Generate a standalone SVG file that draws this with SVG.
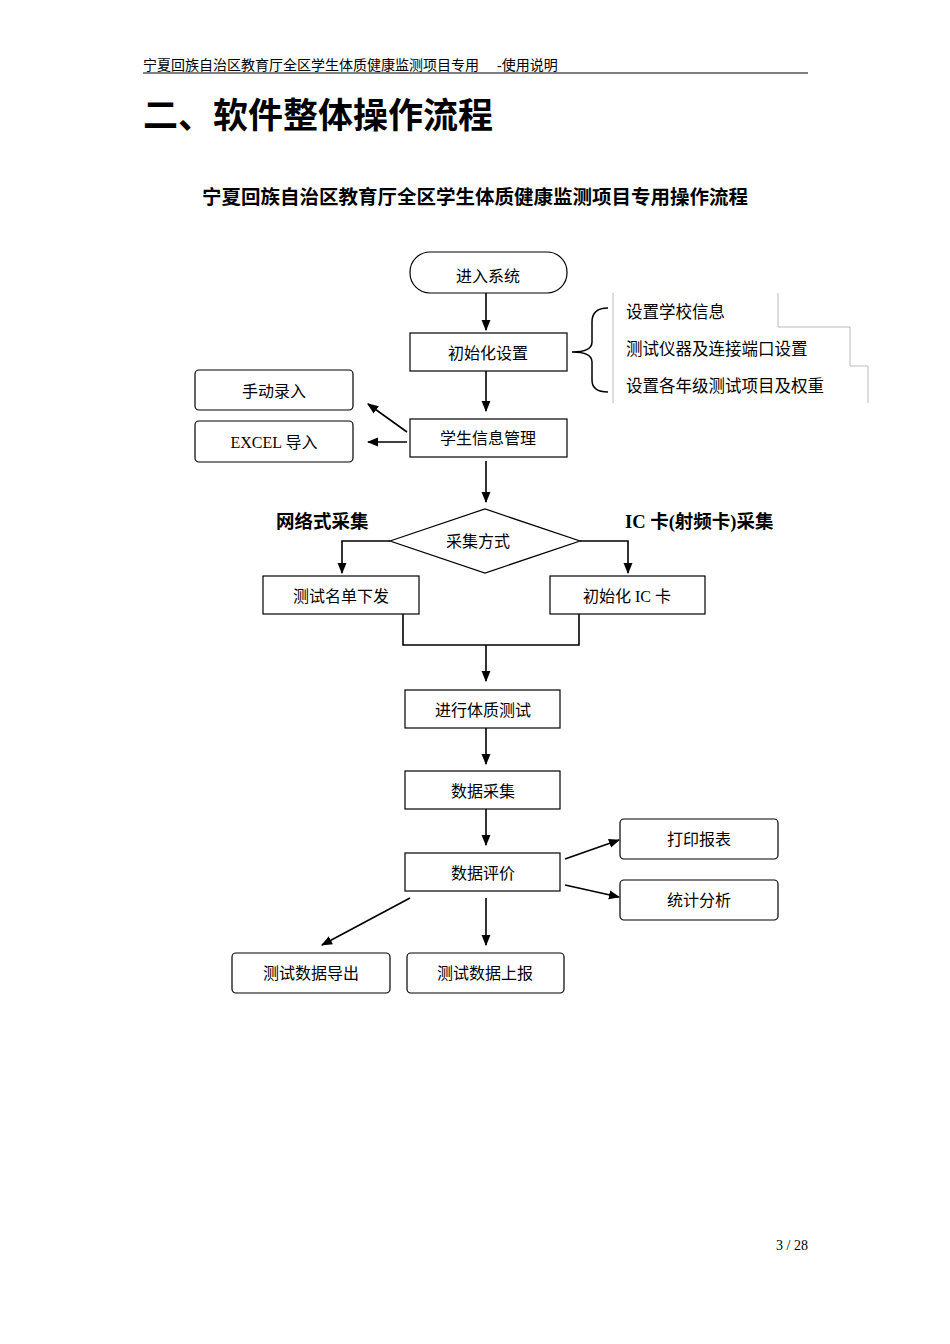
<svg xmlns="http://www.w3.org/2000/svg" width="950" height="1344" viewBox="0 0 950 1344">
<defs>
<marker id="ah" viewBox="0 0 10 10" refX="9" refY="5" markerWidth="7" markerHeight="7" orient="auto"><path d="M0,1 L10,5 L0,9 z" fill="#000"/></marker>
<style>
text{font-family:"Liberation Serif","Noto Sans CJK SC",serif;fill:#000}
.t{font-size:16px;text-anchor:middle}
.b{fill:#fff;stroke:#000;stroke-width:1.2}
.c{fill:none;stroke:#000;stroke-width:1.5}
.s{stroke:#000;stroke-width:1.6}
</style>
</defs>
<rect width="950" height="1344" fill="#fff"/>
<text x="143" y="70" font-size="14">宁夏回族自治区教育厅全区学生体质健康监测项目专用</text>
<text x="497" y="70" font-size="14">-使用说明</text>
<line x1="143" y1="73" x2="808" y2="73" stroke="#000" stroke-width="1.2"/>
<text x="143" y="128" font-size="35" font-weight="bold">二、软件整体操作流程</text>
<text x="475" y="204" font-size="19.5" font-weight="bold" text-anchor="middle">宁夏回族自治区教育厅全区学生体质健康监测项目专用操作流程</text>

<g id="start"><rect class="b" x="410" y="252" width="157" height="41" rx="20"/><text class="t" x="488" y="282">进入系统</text></g>
<g id="init"><rect class="b" x="410" y="333" width="157" height="38"/><text class="t" x="488" y="359">初始化设置</text></g>
<g id="brace"><path d="M608,308 Q592,308 592,322 L592,342 Q592,352 572,352 Q592,352 592,362 L592,380 Q592,392 608,392" class="c" stroke-width="1.2"/>
<path d="M613,293 V403 M778,293 V327 H850 V366 H868 V403" fill="none" stroke="#bbb" stroke-width="1"/>
<text x="626" y="318" font-size="16.5">设置学校信息</text>
<text x="626" y="355" font-size="16.5">测试仪器及连接端口设置</text>
<text x="626" y="392" font-size="16.5">设置各年级测试项目及权重</text></g>
<g id="manual"><rect class="b" x="195" y="370" width="158" height="40" rx="4"/><text class="t" x="274" y="397">手动录入</text></g>
<g id="excel"><rect class="b" x="195" y="421" width="158" height="41" rx="4"/><text class="t" x="274" y="448">EXCEL 导入</text></g>
<g id="student"><rect class="b" x="410" y="419" width="157" height="38"/><text class="t" x="488" y="444">学生信息管理</text></g>
<g id="mode"><polygon class="b" points="390,541 485,509 580,541 485,573"/><text class="t" x="478" y="547">采集方式</text>
<text x="276" y="528" font-size="18.5" font-weight="bold">网络式采集</text>
<text x="625" y="528" font-size="18.5" font-weight="bold">IC 卡(射频卡)采集</text></g>
<g id="list"><rect class="b" x="263" y="576" width="156" height="38"/><text class="t" x="341" y="602">测试名单下发</text></g>
<g id="ic"><rect class="b" x="550" y="576" width="155" height="38"/><text class="t" x="627" y="602">初始化 IC 卡</text></g>
<g id="test"><rect class="b" x="405" y="690" width="155" height="38"/><text class="t" x="483" y="716">进行体质测试</text></g>
<g id="collect"><rect class="b" x="405" y="771" width="155" height="38"/><text class="t" x="483" y="797">数据采集</text></g>
<g id="eval"><rect class="b" x="405" y="853" width="155" height="38"/><text class="t" x="483" y="879">数据评价</text></g>
<g id="print"><rect class="b" x="620" y="819" width="158" height="40" rx="4"/><text class="t" x="699" y="845">打印报表</text></g>
<g id="stat"><rect class="b" x="620" y="880" width="158" height="40" rx="4"/><text class="t" x="699" y="906">统计分析</text></g>
<g id="export"><rect class="b" x="232" y="953" width="158" height="40" rx="4"/><text class="t" x="311" y="979">测试数据导出</text></g>
<g id="report"><rect class="b" x="407" y="953" width="157" height="40" rx="4"/><text class="t" x="485" y="979">测试数据上报</text></g>

<g id="connectors" class="s" fill="none" marker-end="url(#ah)">
<line x1="486" y1="293" x2="486" y2="330"/>
<line x1="486" y1="371" x2="486" y2="411"/>
<line x1="407" y1="432" x2="368" y2="404"/>
<line x1="407" y1="442" x2="368" y2="442"/>
<line x1="486" y1="461" x2="486" y2="502"/>
<polyline points="390,541 342,541 342,573"/>
<polyline points="580,541 628,541 628,573"/>
<polyline points="403,614 403,645 579,645 579,614" marker-end="none"/>
<line x1="486" y1="645" x2="486" y2="681"/>
<line x1="486" y1="728" x2="486" y2="764"/>
<line x1="486" y1="809" x2="486" y2="845"/>
<line x1="565" y1="859" x2="619" y2="840"/>
<line x1="565" y1="885" x2="619" y2="897"/>
<line x1="410" y1="898" x2="322" y2="945"/>
<line x1="486" y1="898" x2="486" y2="945"/>
</g>
<text x="808" y="1250" font-size="14" text-anchor="end">3 / 28</text>
</svg>
